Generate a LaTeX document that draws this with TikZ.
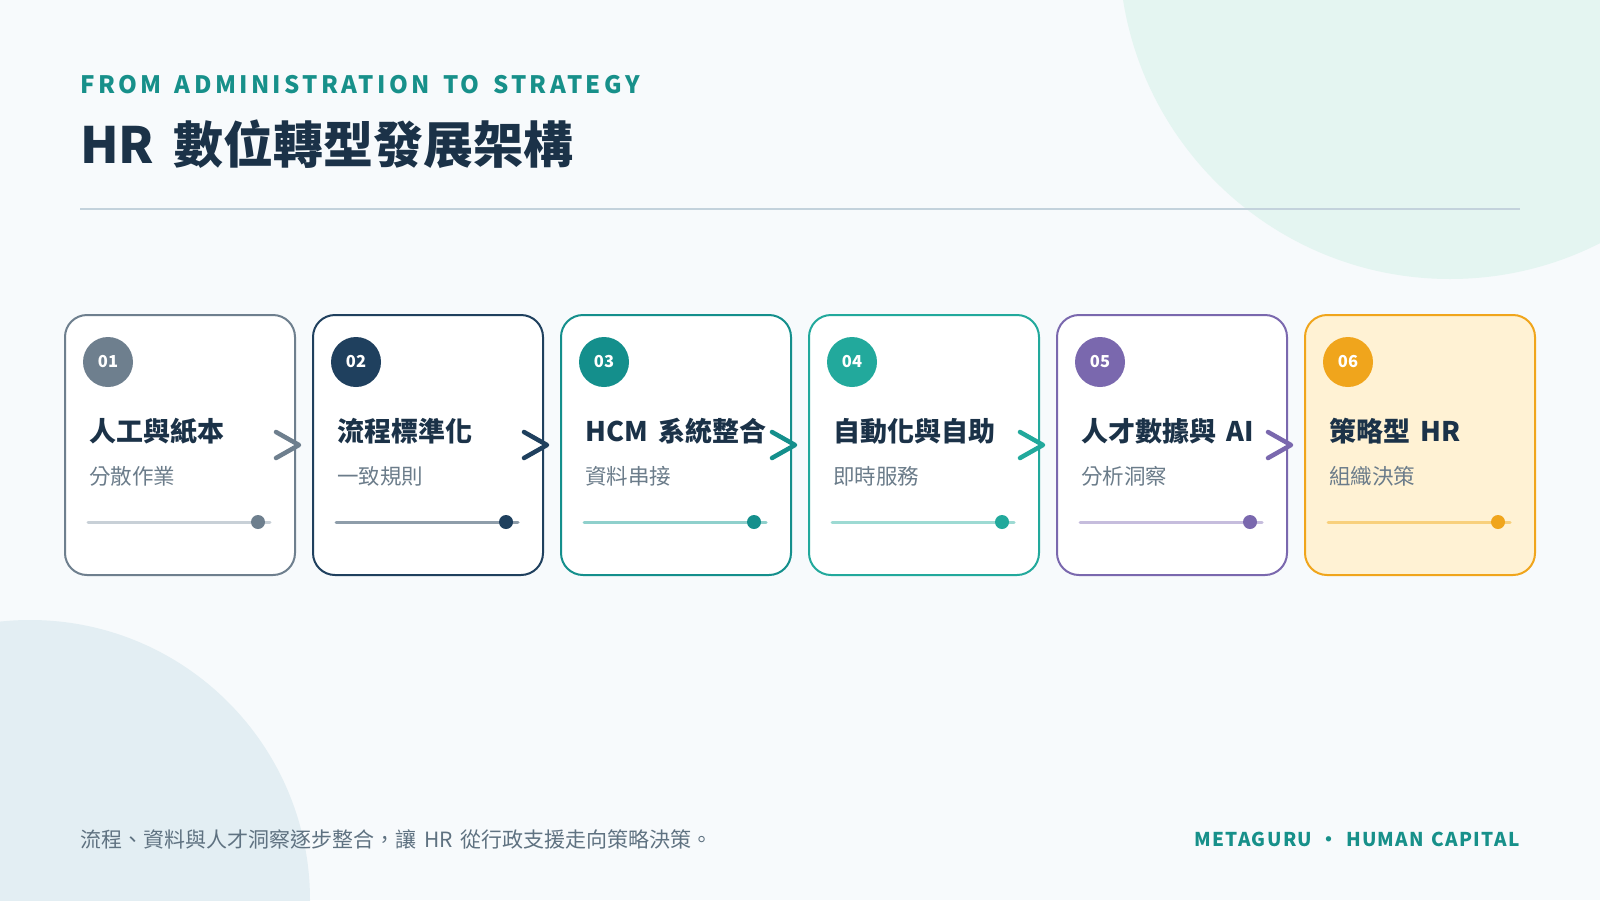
\documentclass[tikz,border=0pt]{standalone}
\usepackage{fontspec}
\setmainfont[WordSpace=1.7]{Noto Sans CJK TC}
\newfontfamily\spacedfont[LetterSpace=14,WordSpace=1.5]{Noto Sans CJK TC}
\newfontfamily\brandfont[LetterSpace=7,WordSpace=1.3]{Noto Sans CJK TC}
\definecolor{bg}{HTML}{F7FAFC}
\definecolor{mint}{HTML}{E4F5F1}
\definecolor{mist}{HTML}{E3EEF3}
\definecolor{teal}{HTML}{17908A}
\definecolor{navy}{HTML}{1B3248}
\definecolor{rulecol}{HTML}{C3D2DC}
\definecolor{subgrey}{HTML}{6B7C8A}
\definecolor{notegrey}{HTML}{5F7281}
\definecolor{cA}{HTML}{6E7F8E}
\definecolor{cB}{HTML}{1F405E}
\definecolor{cC}{HTML}{148F8C}
\definecolor{cD}{HTML}{22A99C}
\definecolor{cE}{HTML}{7A68AE}
\definecolor{cF}{HTML}{F0A51C}
\definecolor{tA}{HTML}{C8D0D7}
\definecolor{tB}{HTML}{8E9DAA}
\definecolor{tC}{HTML}{8FD0CC}
\definecolor{tD}{HTML}{9DDAD3}
\definecolor{tE}{HTML}{C6BDDD}
\definecolor{tF}{HTML}{F8D07C}
\definecolor{fF}{HTML}{FFF2D4}
\begin{document}
\begin{tikzpicture}[
  x=1pt, y=-1pt,
  card/.style={rectangle, rounded corners=22pt, line width=2pt, minimum width=230pt, minimum height=260pt, inner sep=0pt},
  badge/.style={circle, minimum size=50pt, inner sep=0pt, text=white, font=\bfseries\fontsize{16.5}{16.5}\selectfont},
  head/.style={anchor=west, inner sep=0pt, text=navy, font=\bfseries\fontsize{27}{30}\selectfont},
  sub/.style={anchor=west, inner sep=0pt, text=subgrey, font=\fontsize{21.5}{24}\selectfont},
  dot/.style={circle, minimum size=14pt, inner sep=0pt},
  track/.style={line width=3pt, line cap=round},
  chev/.style={line width=4.5pt, line cap=round, line join=round}
]
\begin{scope}
  \clip (0,0) rectangle (1600,900);
  \fill[bg] (0,0) rectangle (1600,900);
  \fill[mint] (1450,-52) circle[radius=331];
  \fill[mist] (30,900) circle[radius=280];
\end{scope}
\useasboundingbox (0,0) rectangle (1600,900);

\node[anchor=base west, inner sep=0pt, text=teal, font=\spacedfont\bfseries\fontsize{24}{24}\selectfont] (kicker) at (80,93) {FROM ADMINISTRATION TO STRATEGY};
\node[anchor=base west, inner sep=0pt, text=navy, font=\bfseries\fontsize{50}{50}\selectfont] (title) at (80,163) {HR 數位轉型發展架構};
\draw[rulecol, line width=1.5pt] (80,209) -- (1520,209);

\foreach \i/\c/\t/\f/\num/\hd/\sb in {
  0/cA/tA/white/01/人工與紙本/分散作業,
  1/cB/tB/white/02/流程標準化/一致規則,
  2/cC/tC/white/03/HCM 系統整合/資料串接,
  3/cD/tD/white/04/自動化與自助/即時服務,
  4/cE/tE/white/05/人才數據與 AI/分析洞察,
  5/cF/tF/fF/06/策略型 HR/組織決策}{
  \node[card, draw=\c, fill=\f] (card\i) at (180+248*\i,445) {};
  \node[badge, fill=\c] (num\i) at ([shift={(44,48)}]card\i.north west) {\num};
  \node[head] (head\i) at ([shift={(25,117)}]card\i.north west) {\hd};
  \node[sub] (sub\i) at ([shift={(25,162)}]card\i.north west) {\sb};
  \draw[track, draw=\t] ([shift={(24,77)}]card\i.west) -- ([shift={(206,77)}]card\i.west);
  \node[dot, fill=\c] (dot\i) at ([shift={(194,77)}]card\i.west) {};
}
\foreach \i/\c in {0/cA,1/cB,2/cC,3/cD,4/cE}
  \draw[chev, draw=\c] ([shift={(-20,-13)}]card\i.east) -- ([shift={(3,0)}]card\i.east) -- ([shift={(-20,13)}]card\i.east);

\node[anchor=west, inner sep=0pt, text=notegrey, font=\fontsize{21}{24}\selectfont] (note) at (80,839) {流程、資料與人才洞察逐步整合，讓 HR 從行政支援走向策略決策。};
\node[anchor=east, inner sep=0pt, text=teal, font=\brandfont\bfseries\fontsize{19}{19}\selectfont] (brand) at (1520,839) {METAGURU · HUMAN CAPITAL};
\end{tikzpicture}
\end{document}
